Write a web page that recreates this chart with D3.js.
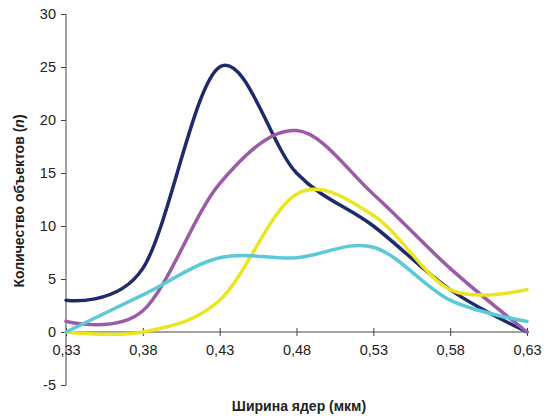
<script src="https://d3js.org/d3.v7.min.js"></script>

<style>
    body {margin: 0; background: #fff;}
    #chart {font-family: "Liberation Sans", Arial, sans-serif;}
    .axis path, .axis line {stroke: #444; stroke-width: 1px;}
    .axis text {fill: #222; font-size: 14.5px; font-family: "Liberation Sans", Arial, sans-serif;}
    .title {fill: #222; font-size: 14px; font-weight: bold;}
</style>

<div id="chart"></div>

<script>

    let widths = [0.33, 0.38, 0.43, 0.48, 0.53, 0.58, 0.63];
    let xTicks = ["0,33", "0,38", "0,43", "0,48", "0,53", "0,58", "0,63"];
    let yTicks = [-5, 0, 5, 10, 15, 20, 25, 30];

    let navy = [3, 6, 25, 15, 10, 4, 0];
    let purple = [1, 2, 14, 19, 13, 6, 0];
    let yellow = [0, 0, 3, 13, 11, 4, 4];
    let cyan = [0, 3.5, 7, 7, 8, 3, 1];

    let series = [
        {name: "navy", values: navy, color: "#1f2a6b"},
        {name: "purple", values: purple, color: "#9c5ba8"},
        {name: "yellow", values: yellow, color: "#ece521"},
        {name: "cyan", values: cyan, color: "#5bc9d7"}
    ];

    let width = 547, height = 418;
    let margin = {top: 14, right: 20, bottom: 33, left: 66};

    let x = d3.scaleLinear()
        .domain([0.33, 0.63])
        .range([margin.left, width - margin.right]);

    let y = d3.scaleLinear()
        .domain([-5, 30])
        .range([385, margin.top]);

    let svg = d3.select("#chart")
        .append("svg")
        .attr("width", width)
        .attr("height", height);

    // y axis
    svg.append("g")
        .attr("class", "axis")
        .attr("transform", "translate(" + margin.left + ",0)")
        .call(d3.axisLeft(y).tickValues(yTicks).tickSize(5).tickPadding(5).tickFormat(d => d))
        .call(g => g.select(".domain").attr("d", "M0," + y(-5) + "V" + y(30)));

    // x axis through zero
    let xAxis = svg.append("g")
        .attr("class", "axis")
        .attr("transform", "translate(0," + y(0) + ")")
        .call(d3.axisBottom(x).tickValues(widths).tickSize(4).tickPadding(7)
            .tickFormat((d, i) => xTicks[i]));
    xAxis.select(".domain").attr("d", "M" + x(0.33) + ",0H" + x(0.63));
    xAxis.selectAll(".tick line").attr("y1", -4);
    xAxis.selectAll(".tick text").attr("dy", "0.85em");

    let line = d3.line()
        .x((d, i) => x(widths[i]))
        .y(d => y(d))
        .curve(d3.curveCardinal.tension(0));

    svg.selectAll(".series")
        .data(series)
        .enter().append("path")
        .attr("class", "series")
        .attr("fill", "none")
        .attr("stroke", d => d.color)
        .attr("stroke-width", 3.5)
        .attr("stroke-linecap", "round")
        .attr("d", d => line(d.values));

    svg.append("text")
        .attr("class", "title")
        .attr("text-anchor", "middle")
        .attr("x", 299)
        .attr("y", 411)
        .text("Ширина ядер (мкм)");

    let yt = svg.append("text")
        .attr("class", "title")
        .attr("text-anchor", "middle")
        .attr("transform", "translate(24,201) rotate(-90)");
    yt.append("tspan").text("Количество объектов (");
    yt.append("tspan").attr("font-style", "italic").text("n");
    yt.append("tspan").text(")");

</script>
